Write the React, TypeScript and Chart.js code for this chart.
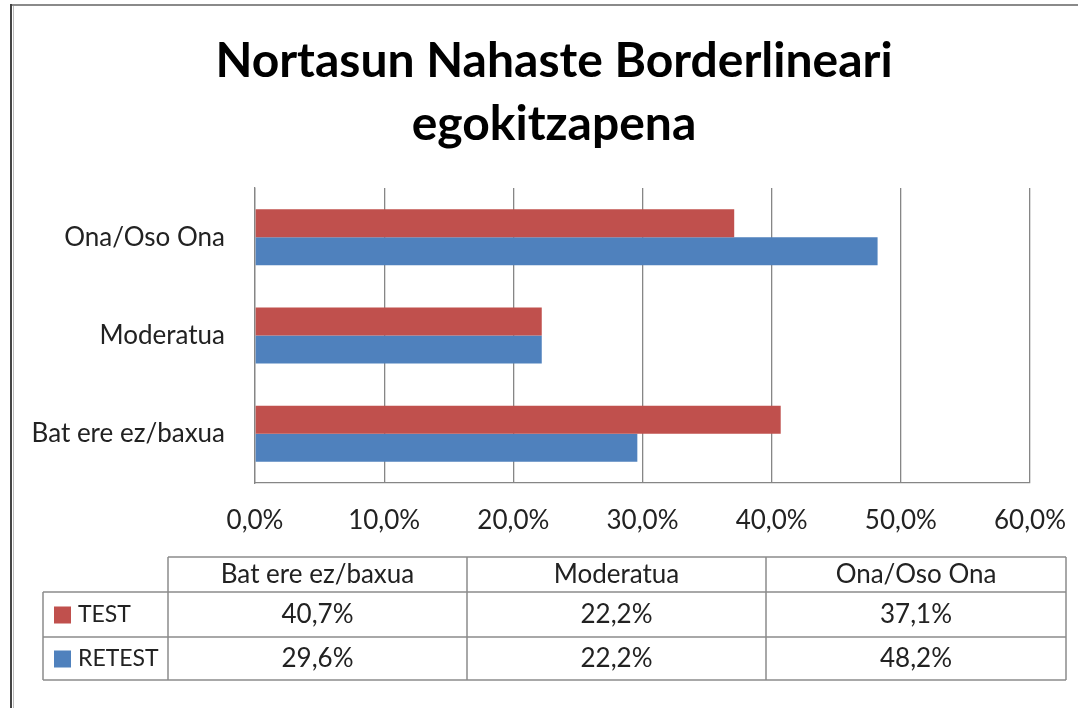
import React, { useEffect, useRef } from "react";
import { Chart, registerables } from "chart.js";

Chart.register(...registerables);

const titleLines = ["Nortasun Nahaste Borderlineari", "egokitzapena"];
const categories = ["Bat ere ez/baxua", "Moderatua", "Ona/Oso Ona"];
const seriesNames = ["TEST", "RETEST"];
const testValues = [40.7, 22.2, 37.1];
const retestValues = [29.6, 22.2, 48.2];
const tableTest = ["40,7%", "22,2%", "37,1%"];
const tableRetest = ["29,6%", "22,2%", "48,2%"];
const colors = ["#C0504D", "#4F81BD"];

const FONT = "Lato, 'Open Sans', sans-serif";

const framePlugin = {
  id: "frameTitleTable",
  afterDraw(chart: any) {
    const ctx = chart.ctx as CanvasRenderingContext2D;
    ctx.save();
    // frame
    ctx.strokeStyle = "#8a8a8a";
    ctx.lineWidth = 2;
    ctx.beginPath();
    ctx.moveTo(11, 5);
    ctx.lineTo(1078, 5);
    ctx.stroke();
    ctx.strokeStyle = "#444";
    ctx.lineWidth = 2;
    ctx.beginPath();
    ctx.moveTo(11, 4);
    ctx.lineTo(11, 708);
    ctx.stroke();
    ctx.strokeStyle = "#bbb";
    ctx.lineWidth = 1;
    ctx.beginPath();
    ctx.moveTo(13.5, 6);
    ctx.lineTo(13.5, 708);
    ctx.stroke();

    // title
    ctx.fillStyle = "#000";
    ctx.font = `bold 48px ${FONT}`;
    ctx.textAlign = "center";
    ctx.textBaseline = "middle";
    titleLines.forEach((t, i) => ctx.fillText(t, 554, 62 + i * 63));

    // data table
    const colX = [43, 168, 467, 766, 1066];
    const rowY = [557, 592, 637, 680];
    ctx.strokeStyle = "#8c8c8c";
    ctx.lineWidth = 1.5;
    ctx.beginPath();
    ctx.moveTo(colX[1], rowY[0]);
    ctx.lineTo(colX[4], rowY[0]);
    for (let r = 1; r < rowY.length; r++) {
      ctx.moveTo(colX[0], rowY[r]);
      ctx.lineTo(colX[4], rowY[r]);
    }
    ctx.moveTo(colX[0], rowY[1]);
    ctx.lineTo(colX[0], rowY[3]);
    for (let c = 1; c < colX.length; c++) {
      ctx.moveTo(colX[c], rowY[0]);
      ctx.lineTo(colX[c], rowY[3]);
    }
    ctx.stroke();

    ctx.fillStyle = "#222";
    ctx.font = `26px ${FONT}`;
    ctx.textBaseline = "middle";
    ctx.textAlign = "center";
    categories.forEach((c, i) => {
      const cx = (colX[i + 1] + colX[i + 2]) / 2;
      ctx.fillText(c, cx, (rowY[0] + rowY[1]) / 2);
    });
    const rows = [tableTest, tableRetest];
    rows.forEach((vals, r) => {
      const cy = (rowY[r + 1] + rowY[r + 2]) / 2;
      ctx.font = `26px ${FONT}`;
      ctx.textAlign = "center";
      ctx.fillStyle = "#222";
      vals.forEach((v, i) => {
        const cx = (colX[i + 1] + colX[i + 2]) / 2;
        ctx.fillText(v, cx, cy);
      });
      ctx.fillStyle = colors[r];
      ctx.fillRect(54, cy - 8, 17, 17);
      ctx.fillStyle = "#222";
      ctx.textAlign = "left";
      ctx.font = `23px ${FONT}`;
      ctx.fillText(seriesNames[r], 78, cy);
    });
    ctx.restore();
  },
};

export default function App() {
  const ref = useRef<HTMLCanvasElement | null>(null);
  useEffect(() => {
    if (!ref.current) return;
    const labels = [...categories].reverse();
    const chart = new Chart(ref.current, {
      type: "bar",
      data: {
        labels,
        datasets: [
          {
            label: seriesNames[0],
            data: [...testValues].reverse(),
            backgroundColor: colors[0],
          },
          {
            label: seriesNames[1],
            data: [...retestValues].reverse(),
            backgroundColor: colors[1],
          },
        ],
      },
      options: {
        indexAxis: "y",
        animation: false,
        responsive: false,
        maintainAspectRatio: false,
        layout: { padding: { left: 0, right: 48, top: 188, bottom: 0 } },
        datasets: {
          bar: { categoryPercentage: 0.57, barPercentage: 1 },
        },
        plugins: {
          legend: { display: false },
          tooltip: { enabled: false },
          title: { display: false },
        },
        scales: {
          x: {
            min: 0,
            max: 60,
            ticks: {
              stepSize: 10,
              color: "#222",
              font: { family: FONT, size: 26 },
              padding: 22,
              callback: (v: any) => Number(v).toFixed(1).replace(".", ",") + "%",
            },
            grid: { color: "#868686", lineWidth: 1.3, drawTicks: false },
            border: { display: true, color: "#868686", width: 1.3 },
            afterFit: (s: any) => {
              s.height = 225;
              s.paddingRight = 0;
              s.paddingLeft = 0;
            },
          },
          y: {
            ticks: {
              color: "#222",
              font: { family: FONT, size: 26 },
              padding: 30,
            },
            grid: { display: false, drawTicks: false },
            border: { display: true, color: "#868686", width: 1.3 },
            afterFit: (s: any) => {
              s.width = 255;
              s.paddingTop = 0;
              s.paddingBottom = 0;
            },
          },
        },
      },
      plugins: [framePlugin],
    });
    return () => chart.destroy();
  }, []);
  return (
    <div style={{ position: "fixed", left: 0, top: 0, width: 1078, height: 708, background: "#fff" }}>
      <canvas ref={ref} width={1078} height={708} style={{ display: "block" }} />
    </div>
  );
}
